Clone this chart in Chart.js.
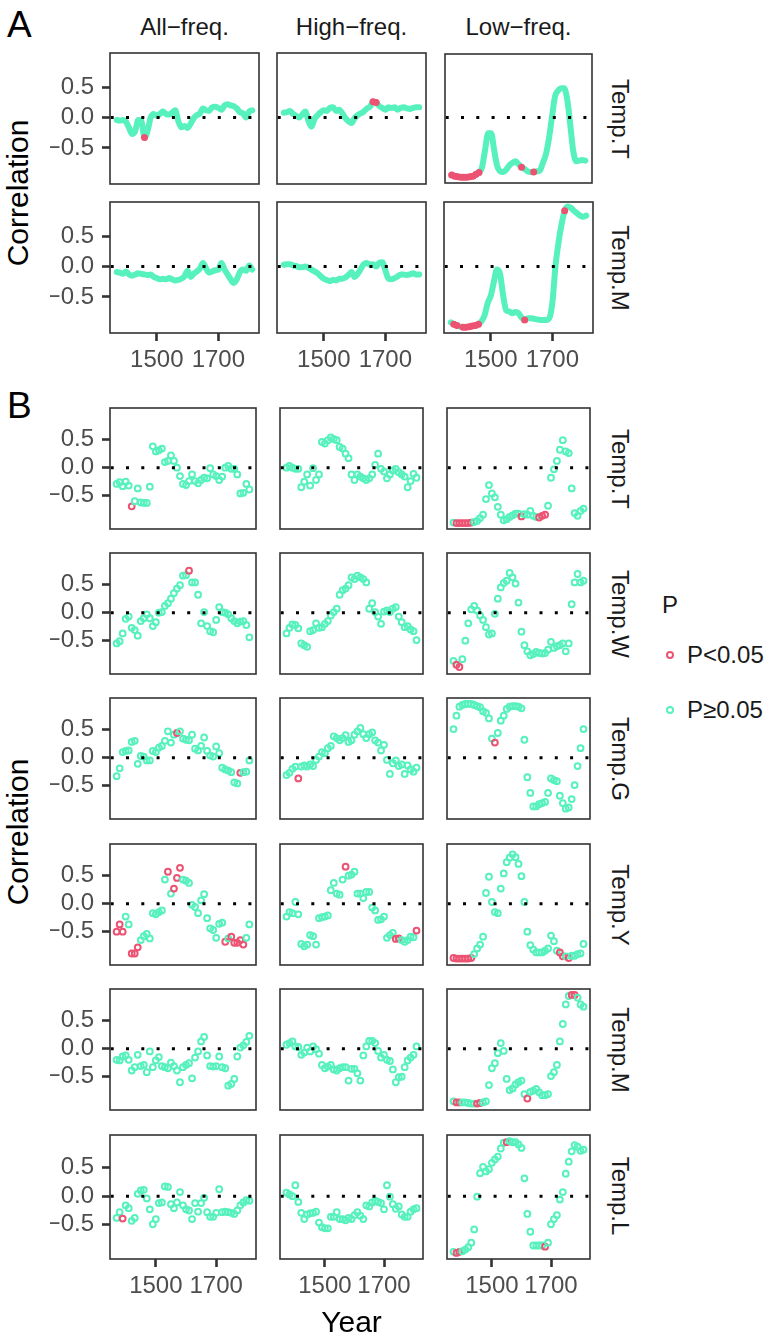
<!DOCTYPE html>
<html>
<head>
<meta charset="utf-8">
<script src="https://cdn.jsdelivr.net/npm/chart.js@4.4.1/dist/chart.umd.min.js"></script>
<style>
  body { margin: 0; background: #fff; width: 773px; height: 1343px; position: relative; overflow: hidden;
         font-family: "Liberation Sans", Arial, Helvetica, sans-serif; }
  canvas { position: absolute; }
  .txt { position: absolute; line-height: 1; white-space: nowrap; color: #1a1a1a; }
  .key { position: absolute; border-radius: 50%; box-sizing: border-box; }
</style>
</head>
<body>
<script>
// years of the moving-window correlations (one value every 10 years)
const years = [1370, 1380, 1390, 1400, 1410, 1420, 1430, 1440, 1450, 1460,
               1470, 1480, 1490, 1500, 1510, 1520, 1530, 1540, 1550, 1560,
               1570, 1580, 1590, 1600, 1610, 1620, 1630, 1640, 1650, 1660,
               1670, 1680, 1690, 1700, 1710, 1720, 1730, 1740, 1750, 1760,
               1770, 1780, 1790, 1800, 1810];

const colNames = ['All\u2212freq.', 'High\u2212freq.', 'Low\u2212freq.'];
const rowsA = ['Temp.T', 'Temp.M'];
const rowsB = ['Temp.T', 'Temp.W', 'Temp.G', 'Temp.Y', 'Temp.M', 'Temp.L'];
const yTicks = [-0.5, 0, 0.5];
const xTicks = [1500, 1700];

// ---- panel A (annual curves, read every 10 years) ----
const A_T_all = [-0.04, -0.05, -0.04, -0.07, -0.17, -0.27, -0.22, -0.04, -0.05, -0.33, -0.22, 0.00, 0.06, 0.03, 0.06, 0.10, 0.06, 0.05, 0.08, 0.12, -0.06, -0.16, -0.14, -0.17, -0.10, -0.01, 0.04, 0.07, 0.15, 0.12, 0.11, 0.17, 0.18, 0.16, 0.13, 0.20, 0.22, 0.20, 0.19, 0.15, 0.09, 0.07, 0.00, 0.10, 0.12];
const A_T_all_sig = [9];
const A_T_high = [0.08, 0.09, 0.11, 0.06, 0.03, 0.00, 0.05, 0.10, -0.05, -0.15, -0.02, 0.04, 0.09, 0.12, 0.11, 0.16, 0.17, 0.11, 0.13, 0.07, -0.01, -0.06, -0.09, -0.01, 0.04, 0.07, 0.10, 0.15, 0.18, 0.26, 0.25, 0.19, 0.16, 0.13, 0.17, 0.16, 0.17, 0.13, 0.16, 0.17, 0.15, 0.14, 0.16, 0.17, 0.17];
const A_T_high_sig = [29, 30];
const A_T_low = [-0.96, -0.98, -0.99, -1.00, -1.00, -1.00, -0.99, -0.98, -0.95, -0.92, -0.83, -0.54, -0.26, -0.26, -0.55, -0.81, -0.90, -0.91, -0.87, -0.80, -0.76, -0.73, -0.78, -0.83, -0.86, -0.90, -0.91, -0.91, -0.90, -0.89, -0.76, -0.62, -0.36, 0.00, 0.35, 0.45, 0.49, 0.49, 0.32, -0.10, -0.55, -0.73, -0.72, -0.71, -0.72];
const A_T_low_sig = [0, 1, 2, 3, 4, 5, 6, 7, 8, 9, 23, 27];
const A_M_all = [-0.09, -0.10, -0.12, -0.08, -0.13, -0.15, -0.13, -0.11, -0.12, -0.13, -0.14, -0.13, -0.17, -0.19, -0.21, -0.20, -0.21, -0.19, -0.21, -0.23, -0.22, -0.20, -0.16, -0.07, -0.17, -0.12, -0.08, -0.03, 0.06, -0.03, -0.10, -0.08, -0.06, -0.05, 0.06, -0.05, -0.13, -0.21, -0.27, -0.21, -0.09, -0.05, -0.07, 0.02, -0.05];
const A_M_all_sig = [];
const A_M_high = [0.03, 0.04, 0.04, 0.02, 0.01, -0.01, -0.01, 0.00, -0.02, -0.05, -0.08, -0.11, -0.16, -0.20, -0.22, -0.24, -0.22, -0.23, -0.20, -0.20, -0.18, -0.14, -0.09, -0.17, -0.12, -0.04, 0.04, 0.06, 0.03, 0.04, 0.00, 0.06, 0.07, -0.06, -0.20, -0.21, -0.19, -0.16, -0.13, -0.13, -0.14, -0.13, -0.11, -0.13, -0.13];
const A_M_high_sig = [];
const A_M_low = [-0.92, -0.95, -0.97, -0.99, -1.00, -1.00, -0.99, -0.98, -0.97, -0.95, -0.90, -0.80, -0.60, -0.48, -0.25, -0.05, -0.12, -0.47, -0.72, -0.74, -0.77, -0.75, -0.77, -0.84, -0.88, -0.85, -0.85, -0.86, -0.87, -0.88, -0.88, -0.88, -0.85, -0.60, 0.00, 0.40, 0.70, 0.92, 0.99, 0.97, 0.92, 0.88, 0.84, 0.82, 0.84];
const A_M_low_sig = [1, 2, 4, 5, 6, 7, 8, 9, 24, 37];

// ---- panel B (one circle per window) ----
const B_T_all = [-0.29, -0.26, -0.33, -0.25, -0.32, -0.69, -0.60, -0.37, -0.62, -0.63, -0.63, -0.34, 0.38, 0.29, 0.31, 0.34, 0.10, 0.12, 0.22, 0.12, 0.00, -0.15, -0.29, -0.31, -0.24, -0.12, -0.24, -0.28, -0.22, -0.18, -0.19, -0.01, -0.12, -0.15, -0.22, -0.16, 0.00, 0.03, -0.02, -0.02, -0.12, -0.46, -0.45, -0.29, -0.39];
const B_T_all_sig = [5];
const B_T_high = [0.00, 0.03, 0.00, -0.02, -0.02, -0.35, -0.25, -0.12, -0.32, -0.01, -0.22, -0.12, 0.46, 0.43, 0.49, 0.54, 0.51, 0.49, 0.37, 0.34, 0.25, 0.17, -0.12, -0.22, -0.12, -0.16, -0.19, -0.22, -0.19, -0.12, 0.05, 0.25, -0.02, -0.07, -0.19, -0.12, -0.05, -0.02, -0.08, -0.12, -0.16, -0.35, -0.24, -0.11, -0.18];
const B_T_high_sig = [];
const B_T_low = [-0.98, -0.99, -0.99, -0.99, -0.99, -0.99, -0.98, -0.97, -0.95, -0.90, -0.84, -0.56, -0.31, -0.46, -0.53, -0.70, -0.84, -0.94, -0.92, -0.88, -0.85, -0.82, -0.82, -0.87, -0.83, -0.84, -0.77, -0.86, -0.88, -0.89, -0.86, -0.84, -0.68, -0.18, -0.03, 0.12, 0.32, 0.49, 0.29, 0.26, -0.37, -0.81, -0.86, -0.77, -0.73];
const B_T_low_sig = [1, 2, 3, 4, 5, 6, 23, 29, 30, 31];
const B_W_all = [-0.55, -0.51, -0.37, -0.11, -0.07, -0.27, -0.31, -0.41, -0.15, -0.10, -0.03, -0.10, -0.24, -0.17, 0.00, 0.01, 0.12, 0.17, 0.25, 0.35, 0.43, 0.49, 0.66, 0.67, 0.75, 0.54, 0.54, 0.32, -0.19, 0.01, -0.24, -0.33, -0.35, -0.13, 0.10, 0.01, 0.00, -0.03, -0.10, -0.15, -0.19, -0.16, -0.15, -0.22, -0.44];
const B_W_all_sig = [24];
const B_W_high = [-0.37, -0.27, -0.21, -0.22, -0.28, -0.55, -0.58, -0.61, -0.33, -0.31, -0.19, -0.27, -0.26, -0.20, -0.15, -0.05, 0.01, 0.07, 0.32, 0.40, 0.43, 0.49, 0.63, 0.60, 0.66, 0.63, 0.60, 0.54, 0.07, 0.17, 0.01, -0.07, -0.20, 0.02, 0.04, 0.01, 0.07, 0.10, -0.07, -0.17, -0.26, -0.24, -0.30, -0.33, -0.49];
const B_W_high_sig = [];
const B_W_low = [-0.86, -0.93, -0.97, -0.83, -0.50, -0.19, 0.06, 0.12, 0.04, -0.05, -0.13, -0.26, -0.39, -0.37, -0.02, 0.25, 0.45, 0.53, 0.57, 0.71, 0.63, 0.52, 0.18, -0.34, -0.58, -0.69, -0.76, -0.74, -0.70, -0.72, -0.73, -0.72, -0.66, -0.52, -0.63, -0.60, -0.58, -0.55, -0.69, -0.55, 0.15, 0.54, 0.69, 0.54, 0.57];
const B_W_low_sig = [1, 2];
const B_G_all = [-0.33, -0.19, 0.10, 0.12, 0.13, 0.28, 0.30, -0.11, 0.03, 0.02, -0.05, -0.05, 0.12, 0.10, 0.18, 0.21, 0.30, 0.47, 0.27, 0.41, 0.44, 0.47, 0.34, 0.32, 0.31, 0.41, 0.16, 0.13, 0.21, 0.36, 0.12, 0.04, 0.02, 0.20, 0.08, -0.18, -0.21, -0.23, -0.26, -0.44, -0.46, -0.27, -0.26, -0.25, -0.05];
const B_G_all_sig = [20, 41];
const B_G_high = [-0.31, -0.27, -0.20, -0.16, -0.37, -0.16, -0.14, -0.16, -0.12, -0.15, -0.04, 0.02, 0.10, 0.08, 0.17, 0.21, 0.38, 0.35, 0.31, 0.35, 0.40, 0.28, 0.31, 0.41, 0.47, 0.53, 0.42, 0.35, 0.42, 0.45, 0.31, 0.27, 0.13, 0.23, -0.04, -0.29, -0.10, -0.05, -0.15, -0.12, -0.29, -0.14, -0.21, -0.25, -0.18];
const B_G_high_sig = [4];
const B_G_low = [0.51, 0.75, 0.91, 0.94, 0.96, 0.96, 0.96, 0.94, 0.92, 0.90, 0.83, 0.80, 0.70, 0.34, 0.27, 0.44, 0.66, 0.75, 0.87, 0.91, 0.92, 0.92, 0.91, 0.88, 0.32, -0.35, -0.63, -0.87, -0.87, -0.83, -0.81, -0.79, -0.63, -0.37, -0.40, -0.42, -0.68, -0.81, -0.91, -0.89, -0.74, -0.49, -0.15, 0.17, 0.51];
const B_G_low_sig = [14];
const B_Y_all = [-0.50, -0.37, -0.50, -0.23, -0.37, -0.89, -0.89, -0.78, -0.65, -0.58, -0.54, -0.62, -0.17, -0.19, -0.15, -0.12, 0.43, 0.57, 0.18, 0.27, 0.46, 0.64, 0.43, 0.41, 0.37, -0.02, -0.06, -0.17, 0.06, 0.17, -0.26, -0.44, -0.47, -0.61, -0.36, -0.34, -0.68, -0.62, -0.59, -0.70, -0.70, -0.65, -0.73, -0.61, -0.37];
const B_Y_all_sig = [0, 1, 2, 5, 6, 7, 17, 19, 20, 21, 36, 38, 39, 40, 41, 42];
const B_Y_high = [-0.23, -0.15, -0.17, 0.03, -0.19, -0.72, -0.76, -0.73, -0.56, -0.58, -0.73, -0.26, -0.24, -0.23, -0.21, 0.24, 0.37, 0.18, 0.16, 0.43, 0.66, 0.50, 0.52, 0.57, 0.18, 0.18, 0.10, 0.21, 0.21, -0.07, -0.12, -0.29, -0.28, -0.23, -0.61, -0.56, -0.52, -0.63, -0.62, -0.65, -0.68, -0.65, -0.59, -0.60, -0.48];
const B_Y_high_sig = [20, 37, 38, 44];
const B_Y_low = [-0.97, -0.98, -0.98, -0.98, -0.98, -0.98, -0.97, -0.90, -0.80, -0.73, -0.59, 0.19, 0.48, 0.03, -0.15, -0.17, 0.27, 0.54, 0.74, 0.82, 0.88, 0.83, 0.71, 0.49, 0.03, -0.50, -0.74, -0.82, -0.87, -0.87, -0.87, -0.84, -0.80, -0.57, -0.67, -0.84, -0.87, -0.94, -0.94, -0.97, -0.93, -0.93, -0.90, -0.89, -0.72];
const B_Y_low_sig = [0, 1, 2, 3, 4, 5, 6, 36, 37, 39];
const B_M_all = [-0.20, -0.21, -0.14, -0.12, -0.20, -0.39, -0.33, -0.11, -0.31, -0.29, -0.42, -0.05, -0.33, -0.21, -0.15, -0.31, -0.33, -0.35, -0.25, -0.31, -0.39, -0.60, -0.33, -0.29, -0.26, -0.53, -0.16, -0.05, 0.13, 0.21, -0.12, -0.31, -0.32, -0.31, -0.14, -0.33, -0.35, -0.66, -0.63, -0.54, -0.14, 0.02, 0.06, 0.12, 0.23];
const B_M_all_sig = [];
const B_M_high = [0.07, 0.10, 0.13, 0.04, 0.03, -0.11, -0.07, 0.02, -0.05, 0.04, -0.01, -0.09, -0.29, -0.35, -0.32, -0.29, -0.37, -0.39, -0.35, -0.33, -0.33, -0.57, -0.36, -0.36, -0.44, -0.57, -0.12, 0.04, 0.14, 0.14, 0.10, -0.04, -0.16, -0.11, -0.20, -0.22, -0.37, -0.60, -0.51, -0.50, -0.33, -0.21, -0.16, -0.11, 0.04];
const B_M_high_sig = [];
const B_M_low = [-0.94, -0.96, -0.96, -0.96, -0.96, -0.97, -0.98, -0.98, -0.98, -0.97, -0.96, -0.94, -0.65, -0.35, -0.26, -0.08, 0.10, -0.04, -0.54, -0.74, -0.71, -0.64, -0.60, -0.57, -0.81, -0.89, -0.77, -0.75, -0.72, -0.78, -0.83, -0.83, -0.81, -0.49, -0.42, -0.29, 0.13, 0.44, 0.79, 0.94, 0.96, 0.96, 0.91, 0.79, 0.75];
const B_M_low_sig = [1, 2, 8, 9, 25, 40, 41];
const B_L_all = [-0.38, -0.28, -0.39, -0.16, -0.21, -0.43, -0.38, 0.04, 0.10, 0.11, -0.04, -0.23, -0.49, -0.40, -0.12, -0.11, 0.17, 0.16, -0.14, -0.21, -0.11, 0.07, -0.16, -0.23, -0.25, -0.40, -0.12, -0.27, -0.12, -0.03, -0.28, -0.36, -0.36, -0.29, 0.12, -0.28, -0.27, -0.28, -0.29, -0.31, -0.25, -0.16, -0.11, -0.07, -0.08];
const B_L_all_sig = [2];
const B_L_high = [0.06, 0.03, 0.00, 0.19, -0.10, -0.29, -0.40, -0.32, -0.30, -0.29, -0.27, -0.46, -0.54, -0.56, -0.56, -0.36, -0.36, -0.28, -0.40, -0.40, -0.42, -0.38, -0.40, -0.33, -0.28, -0.34, -0.40, -0.16, -0.18, -0.11, -0.08, -0.10, -0.12, -0.23, 0.19, -0.01, -0.14, -0.22, -0.18, -0.32, -0.36, -0.36, -0.27, -0.23, -0.21];
const B_L_high_sig = [];
const B_L_low = [-0.97, -0.99, -0.97, -0.96, -0.93, -0.89, -0.81, -0.58, -0.01, 0.40, 0.51, 0.43, 0.47, 0.58, 0.64, 0.69, 0.83, 0.93, 0.94, 0.96, 0.94, 0.94, 0.90, 0.84, 0.31, -0.31, -0.62, -0.86, -0.86, -0.86, -0.86, -0.88, -0.81, -0.49, -0.40, -0.33, -0.06, 0.07, 0.39, 0.60, 0.78, 0.89, 0.86, 0.79, 0.81];
const B_L_low_sig = [1, 2, 18, 31];

const seriesA = [[A_T_all, A_T_high, A_T_low], [A_M_all, A_M_high, A_M_low]];
const sigA = [[A_T_all_sig, A_T_high_sig, A_T_low_sig], [A_M_all_sig, A_M_high_sig, A_M_low_sig]];
const seriesB = [[B_T_all, B_T_high, B_T_low], [B_W_all, B_W_high, B_W_low], [B_G_all, B_G_high, B_G_low],
                 [B_Y_all, B_Y_high, B_Y_low], [B_M_all, B_M_high, B_M_low], [B_L_all, B_L_high, B_L_low]];
const sigB = [[B_T_all_sig, B_T_high_sig, B_T_low_sig], [B_W_all_sig, B_W_high_sig, B_W_low_sig], [B_G_all_sig, B_G_high_sig, B_G_low_sig],
              [B_Y_all_sig, B_Y_high_sig, B_Y_low_sig], [B_M_all_sig, B_M_high_sig, B_M_low_sig], [B_L_all_sig, B_L_high_sig, B_L_low_sig]];

// ---- look & layout ----
const TEAL = '#57F1BE';
const RED = '#EC5372';
const FONT = '"Liberation Sans", Arial, Helvetica, sans-serif';
const X_MIN = 1348, X_MAX = 1832;
const Y_MIN = -1.095, Y_MAX = 1.065;
const COL_X = [110, 277, 444];
const PANEL_W = 149;
const ROW_A_Y = [53, 202], PANEL_H_A = 131;
const ROW_B_Y = [405, 550, 695, 841, 986, 1132], PANEL_H_B = 127;
const PAD = 3, Y_AXIS_W = 60, X_AXIS_H = 50;

Chart.defaults.font.family = FONT;

function fmt(v) {
  return v.toFixed(1).replace('-', '\u2212');
}

function addText(str, cx, cy, size, rot, extra) {
  const d = document.createElement('div');
  d.className = 'txt';
  d.textContent = str;
  d.style.fontSize = size + 'px';
  d.style.left = cx + 'px';
  d.style.top = cy + 'px';
  d.style.transform = 'translate(-50%,-50%) rotate(' + (rot || 0) + 'deg)';
  if (extra) Object.assign(d.style, extra);
  document.body.appendChild(d);
  return d;
}

// dotted zero line and panel frame
const panelDeco = {
  id: 'panelDeco',
  afterDatasetsDraw(chart) {
    const ctx = chart.ctx, a = chart.chartArea;
    const y0 = chart.scales.y.getPixelForValue(0);
    ctx.save();
    ctx.beginPath();
    ctx.setLineDash([3, 12.3]);
    ctx.lineWidth = 3;
    ctx.strokeStyle = '#000';
    ctx.moveTo(a.left + 0.7, y0);
    ctx.lineTo(a.right, y0);
    ctx.stroke();
    ctx.setLineDash([]);
    ctx.lineWidth = 1.6;
    ctx.strokeStyle = '#333333';
    ctx.strokeRect(a.left, a.top, a.right - a.left, a.bottom - a.top);
    ctx.restore();
  }
};

function axisGrid() {
  return { drawOnChartArea: false, drawTicks: true, tickLength: 8, tickWidth: 2.6, tickColor: '#333333' };
}

function makePanel(vals, sig, left, top, h, showY, showX, isLine) {
  const sigSet = new Set(sig);
  const c = document.createElement('canvas');
  const w = PANEL_W + 2 * PAD + (showY ? Y_AXIS_W : 0);
  const ht = h + 2 * PAD + (showX ? X_AXIS_H : 0);
  c.width = w; c.height = ht;
  c.style.width = w + 'px'; c.style.height = ht + 'px';
  c.style.left = (left - PAD - (showY ? Y_AXIS_W : 0)) + 'px';
  c.style.top = (top - PAD) + 'px';
  document.body.appendChild(c);

  const points = years.map((x, i) => ({ x: x, y: vals[i] }));
  let ds;
  if (isLine) {
    ds = {
      data: points,
      borderColor: TEAL,
      borderWidth: 6,
      cubicInterpolationMode: 'monotone',
      borderCapStyle: 'round',
      borderJoinStyle: 'round',
      segment: {
        borderColor: s => (sigSet.has(s.p0DataIndex) && sigSet.has(s.p1DataIndex)) ? RED : TEAL
      },
      pointRadius: vals.map((v, i) => sigSet.has(i) ? 3.5 : 0),
      pointBackgroundColor: RED,
      pointBorderWidth: 0,
      fill: false,
      clip: false
    };
  } else {
    ds = {
      data: points,
      showLine: false,
      pointRadius: 2.9,
      pointBorderWidth: 2,
      pointBackgroundColor: 'rgba(0,0,0,0)',
      pointBorderColor: vals.map((v, i) => sigSet.has(i) ? RED : TEAL),
      clip: false
    };
  }

  new Chart(c.getContext('2d'), {
    type: isLine ? 'line' : 'scatter',
    data: { datasets: [ds] },
    options: {
      responsive: false,
      animation: false,
      devicePixelRatio: 1,
      events: [],
      layout: { padding: PAD },
      plugins: { legend: { display: false }, tooltip: { enabled: false } },
      scales: {
        x: {
          type: 'linear', min: X_MIN, max: X_MAX, display: showX,
          afterBuildTicks: s => { s.ticks = xTicks.map(v => ({ value: v })); },
          afterFit: s => {
            if (showX) s.height = X_AXIS_H;
            s.paddingLeft = 0; s.paddingRight = 0;
          },
          border: { display: false },
          grid: axisGrid(),
          ticks: { autoSkip: false, maxRotation: 0, padding: 5, color: '#4D4D4D',
                   font: { size: 24 }, callback: v => String(v) }
        },
        y: {
          type: 'linear', min: Y_MIN, max: Y_MAX, display: showY,
          afterBuildTicks: s => { s.ticks = yTicks.map(v => ({ value: v })); },
          afterFit: s => {
            if (showY) s.width = Y_AXIS_W;
            s.paddingTop = 0; s.paddingBottom = 0;
          },
          border: { display: false },
          grid: axisGrid(),
          ticks: { autoSkip: false, padding: 8, color: '#4D4D4D',
                   font: { size: 24 }, callback: v => fmt(v) }
        }
      }
    },
    plugins: [panelDeco]
  });
}

// panel A
rowsA.forEach((name, r) => {
  colNames.forEach((cn, k) => {
    makePanel(seriesA[r][k], sigA[r][k], COL_X[k], ROW_A_Y[r], PANEL_H_A, k === 0, r === rowsA.length - 1, true);
  });
  addText(name, 620, ROW_A_Y[r] + PANEL_H_A / 2, 24, 90);
});

// panel B
rowsB.forEach((name, r) => {
  colNames.forEach((cn, k) => {
    makePanel(seriesB[r][k], sigB[r][k], COL_X[k], ROW_B_Y[r], PANEL_H_B, k === 0, r === rowsB.length - 1, false);
  });
  addText(name, 620, ROW_B_Y[r] + PANEL_H_B / 2, 24, 90);
});

// column headers
colNames.forEach((cn, k) => addText(cn, COL_X[k] + PANEL_W / 2, 26.5, 24, 0));

// tags and axis titles
addText('A', 7, 5.5, 37, 0, { transform: 'none', color: '#000' });
addText('B', 7, 387, 37, 0, { transform: 'none', color: '#000' });
addText('Correlation', 18, (ROW_A_Y[0] + ROW_A_Y[1] + PANEL_H_A) / 2, 30, -90, { color: '#000' });
addText('Correlation', 18, (ROW_B_Y[0] + ROW_B_Y[5] + PANEL_H_B) / 2, 30, -90, { color: '#000' });
addText('Year', (COL_X[0] + COL_X[2] + PANEL_W) / 2, 1322, 30, 0, { color: '#000' });

// legend
addText('P', 662, 605, 24, 0, { transform: 'translate(0,-50%)' });
const legendItems = [['P<0.05', RED, 655], ['P\u22650.05', TEAL, 710]];
legendItems.forEach(([label, col, y]) => {
  const k = document.createElement('div');
  k.className = 'key';
  k.style.width = '8px'; k.style.height = '8px';
  k.style.border = '2px solid ' + col;
  k.style.left = (670 - 4) + 'px'; k.style.top = (y - 4) + 'px';
  document.body.appendChild(k);
  addText(label, 687, y, 24, 0, { transform: 'translate(0,-50%)' });
});
</script>
</body>
</html>
